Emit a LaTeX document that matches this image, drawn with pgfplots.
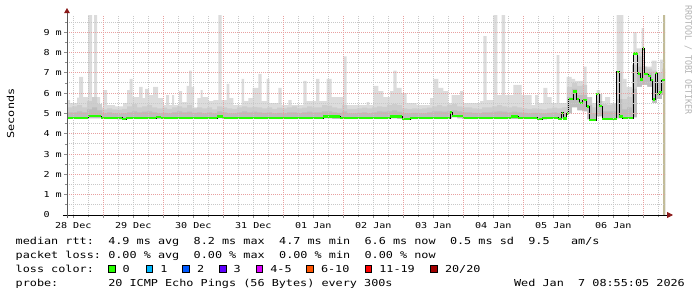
\documentclass[border=0pt]{standalone}
\usepackage{fontspec}
\usepackage{pgfplots}
\usepackage{pgfplotstable}
\pgfplotsset{compat=1.18}
\usetikzlibrary{arrows.meta}
\newfontfamily\monoS[FakeStretch=1.23]{DejaVu Sans Mono}
\newfontfamily\monoC[FakeStretch=0.92]{DejaVu Sans Mono}
\newcommand\legf{\monoS\fontsize{9.6bp}{11bp}\selectfont}
\newcommand\tickf{\monoS\fontsize{8.2bp}{9bp}\selectfont}
\definecolor{smokeL}{HTML}{DCDCDC}
\definecolor{smokeM}{HTML}{CDCDCD}
\definecolor{smokeD}{HTML}{BDBDBD}
\definecolor{mgrid}{HTML}{E8A0A0}
\definecolor{ngrid}{HTML}{C8C8C8}
\definecolor{lossA}{HTML}{26FF00}
\definecolor{lossB}{HTML}{00B8FF}
\definecolor{lossC}{HTML}{0059FF}
\definecolor{lossD}{HTML}{5E00FF}
\definecolor{lossE}{HTML}{DD00FF}
\definecolor{lossF}{HTML}{FF5500}
\definecolor{lossG}{HTML}{FF0000}
\definecolor{lossH}{HTML}{A10000}
\definecolor{arrowred}{HTML}{8B1A1A}
\definecolor{vrulec}{HTML}{C2BC98}

% max ping (top of smoke): hours since start, value in ms
\pgfplotstableread{
h v
0 5.65
1.2 5.5
4.0 5.77
4.8 6.8
6.4 5.8
8.4 9.84
10.0 5.8
10.8 9.84
12.0 5.8
13.2 5.3
14.4 6.15
16.0 5.4
19.2 5.35
22.4 5.5
24.0 6.15
25.0 6.7
26.2 5.8
28.8 6.3
30.28 5.75
31.2 6.2
32.8 5.9
34.4 6.3
36.4 5.75
38.4 5.4
39.6 5.9
40.8 5.4
42.0 5.9
42.8 5.4
44.8 6.1
46.0 5.55
47.88 6.35
48.8 7.1
49.88 6.3
50.8 5.3
52.12 5.75
53.48 6.15
54.28 5.8
56.52 5.6
58.52 5.65
60.52 9.84
61.88 5.65
63.88 6.45
64.92 5.75
66.52 5.4
69.88 6.7
70.8 5.6
72.52 5.75
74.28 6.25
76.52 6.94
77.88 5.6
79.88 6.7
80.92 5.5
84.52 6.25
85.88 5.4
88.52 5.65
89.88 5.4
94.52 6.6
95.88 5.6
99.6 6.7
100.92 5.6
103.88 6.7
105.88 5.8
110.52 7.8
111.88 5.4
119.88 5.55
120.92 5.4
122.52 6.35
124.52 6.1
126.52 5.8
129.2 6.1
130.52 7.1
131.88 6.25
133.88 6.0
135.88 5.5
139.88 5.4
145.2 5.75
146.52 6.7
148.52 6.25
150.52 6.1
152.52 5.5
153.88 5.9
157.2 6.1
158.52 5.5
165.2 5.6
166.52 8.8
167.88 5.65
170.52 9.84
172.12 5.9
173.88 9.84
175.2 5.9
178.52 6.4
181.88 5.9
185.88 5.4
187.2 5.9
188.52 5.5
190.52 6.25
192.12 5.8
193.88 5.5
195.88 7.87
196.92 5.5
199.88 6.8
201.88 6.7
203.2 6.6
206.52 7.3
207.88 5.4
209.88 5.5
211.88 6.15
213.2 5.6
215.2 5.8
217.2 5.5
219.88 9.84
222.52 6.7
223.88 6.3
226.52 9.0
227.88 8.2
229.88 9.2
230.8 7.3
233.88 7.6
235.88 6.8
237.2 7.65
239.2 7.65
}\maxT

% smoke layers per 2 h: bottom, dark top, mid top
\pgfplotstableread{
h bot dark mid
0 4.72 5.05 5.30
2 4.72 5.05 5.35
4 4.72 5.10 5.40
6 4.72 5.05 5.30
8 4.75 5.20 5.60
10 4.75 5.30 5.80
12 4.75 5.15 5.45
14 4.72 5.00 5.20
16 4.72 5.05 5.25
18 4.72 5.00 5.20
20 4.70 4.98 5.18
22 4.70 5.00 5.22
24 4.72 5.05 5.35
26 4.72 5.10 5.45
28 4.72 5.05 5.30
30 4.72 5.08 5.35
32 4.72 5.10 5.40
34 4.72 5.05 5.30
36 4.72 5.00 5.25
38 4.72 5.02 5.28
40 4.72 5.00 5.22
42 4.72 5.05 5.30
44 4.72 5.10 5.35
46 4.72 5.05 5.28
48 4.72 5.08 5.40
50 4.72 5.02 5.25
52 4.72 5.05 5.30
54 4.72 5.00 5.25
56 4.72 5.05 5.30
58 4.72 5.00 5.20
60 4.75 5.10 5.35
62 4.72 5.05 5.30
64 4.72 5.00 5.25
66 4.72 5.00 5.22
68 4.72 5.05 5.30
70 4.72 5.10 5.35
72 4.72 5.05 5.30
74 4.72 5.08 5.32
76 4.72 5.05 5.30
78 4.72 5.02 5.25
80 4.72 5.05 5.30
82 4.72 5.00 5.22
84 4.72 5.03 5.28
86 4.72 5.00 5.25
88 4.72 5.05 5.30
90 4.72 5.05 5.35
92 4.72 5.00 5.25
94 4.72 5.05 5.28
96 4.72 5.08 5.35
98 4.72 5.05 5.30
100 4.72 5.05 5.30
102 4.75 5.10 5.40
104 4.75 5.10 5.38
106 4.72 5.05 5.30
108 4.72 5.02 5.25
110 4.72 5.10 5.40
112 4.72 5.00 5.22
114 4.72 5.00 5.22
116 4.72 5.02 5.25
118 4.72 5.05 5.28
120 4.72 5.00 5.25
122 4.72 5.05 5.30
124 4.72 5.10 5.35
126 4.72 5.08 5.32
128 4.75 5.10 5.40
130 4.75 5.15 5.45
132 4.72 5.08 5.40
134 4.70 5.00 5.25
136 4.70 5.00 5.22
138 4.72 5.02 5.25
140 4.72 5.00 5.22
142 4.72 5.00 5.25
144 4.72 5.05 5.28
146 4.72 5.10 5.35
148 4.72 5.10 5.40
150 4.72 5.08 5.35
152 4.75 5.10 5.40
154 4.80 5.15 5.45
156 4.75 5.10 5.35
158 4.72 5.05 5.30
160 4.72 5.05 5.30
162 4.72 5.02 5.25
164 4.72 5.00 5.22
166 4.72 5.05 5.30
168 4.72 5.05 5.30
170 4.72 5.08 5.35
172 4.72 5.10 5.40
174 4.72 5.08 5.35
176 4.72 5.05 5.30
178 4.72 5.08 5.35
180 4.72 5.05 5.30
182 4.72 5.02 5.25
184 4.72 5.00 5.22
186 4.72 5.02 5.25
188 4.72 5.00 5.22
190 4.70 5.00 5.20
192 4.72 5.02 5.25
194 4.72 5.05 5.28
196 4.72 5.00 5.25
198 4.72 5.02 5.30
200 5.00 5.80 6.30
202 5.30 6.20 6.50
204 5.15 5.90 6.35
206 5.10 5.90 6.40
208 4.70 5.40 5.80
210 4.65 5.00 5.30
212 4.85 5.60 5.95
214 4.70 5.10 5.45
216 4.70 5.10 5.40
218 4.70 5.10 5.45
220 4.75 5.70 7.00
222 4.72 5.20 5.70
224 4.72 5.30 5.80
226 4.80 6.20 7.40
228 6.30 7.30 7.80
230 6.40 7.00 7.30
232 6.30 7.00 7.20
234 5.50 6.60 7.10
236 5.70 6.50 7.00
238 5.90 6.70 7.20
239.2 5.90 6.70 7.20
}\smokeT

% median rtt
\pgfplotstableread{
h v
0 4.77
8.4 4.87
13.6 4.78
22.0 4.72
23.6 4.77
35.6 4.82
37.6 4.77
60.0 4.85
62.4 4.77
102.4 4.85
109.2 4.77
129.2 4.84
134.0 4.72
137.2 4.77
153.2 5.05
154.0 4.86
158.4 4.78
177.6 4.85
180.4 4.78
188.0 4.72
190.0 4.78
196.4 4.72
197.88 5.03
198.4 4.75
199.88 5.0
200.68 5.7
202.4 6.07
203.88 5.7
204.8 5.5
206.28 5.65
207.88 5.33
208.8 4.67
211.6 5.95
212.92 5.36
214.0 4.72
219.88 7.05
220.92 4.84
222.28 4.76
226.52 7.95
228.28 6.97
229.2 6.67
230.28 8.2
230.8 6.93
232.52 6.84
233.48 6.64
234.28 5.69
235.2 7.0
236.12 5.94
236.92 6.02
237.88 6.64
239.2 6.64
}\medT

\begin{document}
\begin{tikzpicture}
\path[use as bounding box] (-67bp,-82bp) rectangle (630bp,215bp);
\begin{axis}[
  at={(0,0)}, anchor=south west,
  scale only axis, width=598bp, height=200bp,
  xmin=0, xmax=239.2, ymin=0, ymax=9.84,
  enlargelimits=false,
  axis on top,
  axis x line=bottom, axis y line=left,
  x axis line style={black, line width=0.8bp, shorten <=-4bp, shorten >=-8bp,
     -{Triangle[length=6bp,width=6bp,color=arrowred]}},
  y axis line style={black!65, line width=0.8bp, shorten <=-3bp, shorten >=-7bp,
     -{Triangle[length=5bp,width=5.5bp,color=arrowred]}},
  xtick={2.5,26.5,50.5,74.5,98.5,122.5,146.5,170.5,194.5,218.5},
  xticklabels={,,,,,,,,,},
  minor xtick={2.5,8.5,20.5,26.5,32.5,44.5,50.5,56.5,68.5,74.5,80.5,92.5,98.5,104.5,116.5,122.5,128.5,140.5,146.5,152.5,164.5,170.5,176.5,188.5,194.5,200.5,212.5,218.5,224.5,236.5},
  extra x ticks={14.5,38.5,62.5,86.5,110.5,134.5,158.5,182.5,206.5,230.5},
  extra x tick labels={},
  extra x tick style={grid=major},
  xminorgrids=true,
  ytick={0,1,2,3,4,5,6,7,8,9},
  yticklabels={0\phantom{ m},1 m,2 m,3 m,4 m,5 m,6 m,7 m,8 m,9 m},
  minor ytick={0.5,1.5,2.5,3.5,4.5,5.5,6.5,7.5,8.5,9.5},
  ymajorgrids=true, yminorgrids=true,
  major grid style={draw=mgrid, line width=0.8bp, dash pattern=on 1bp off 1bp},
  minor grid style={draw=ngrid, line width=0.8bp, dash pattern=on 1bp off 1bp},
  tick align=outside, major tick length=3bp, minor tick length=2bp,
  every tick/.style={black!45, line width=0.7bp},
  ticklabel style={font=\tickf, inner sep=0pt},
  yticklabel style={xshift=-2bp},
]
\addplot[const plot, draw=none, fill=smokeL] table[x=h, y=v] {\maxT} \closedcycle;
\addplot[const plot, draw=none, fill=smokeM] table[x=h, y=mid] {\smokeT} \closedcycle;
\addplot[const plot, draw=none, fill=smokeD] table[x=h, y=dark] {\smokeT} \closedcycle;
\addplot[const plot, draw=none, fill=white] table[x=h, y=bot] {\smokeT} \closedcycle;
\addplot[vrulec, line width=2.3bp] coordinates {(239.0,0) (239.0,9.84)};
\addplot[const plot, black, line width=0.9bp] table[x=h, y=v] {\medT};
\addplot[jump mark left, lossA, line width=2.4bp] table[x=h, y=v] {\medT};
\end{axis}

% x axis date labels (centred at noon of each day)
\begin{scope}[every node/.style={anchor=base, inner sep=0pt, font=\tickf}]
\node at (6.25bp,-13.3bp) {28 Dec};
\node at (66.25bp,-13.3bp) {29 Dec};
\node at (126.25bp,-13.3bp) {30 Dec};
\node at (186.25bp,-13.3bp) {31 Dec};
\node at (246.25bp,-13.3bp) {01 Jan};
\node at (306.25bp,-13.3bp) {02 Jan};
\node at (366.25bp,-13.3bp) {03 Jan};
\node at (426.25bp,-13.3bp) {04 Jan};
\node at (486.25bp,-13.3bp) {05 Jan};
\node at (546.25bp,-13.3bp) {06 Jan};
\end{scope}

% y axis title and credits
\node[rotate=90, font=\legf, inner sep=0pt] at (-56.5bp,101.5bp) {Seconds};
\node[rotate=-90, anchor=west, inner sep=0pt, text=black!30,
      font=\monoC\fontsize{9bp}{10bp}\selectfont] at (621.3bp,210bp) {RRDTOOL / TOBI OETIKER};

% legend rows
\begin{scope}[every node/.style={anchor=base west, inner sep=0pt, font=\legf}]
\node at (-51.5bp,-29bp) {median rtt:};
\node at (41.06bp,-29bp) {4.9 ms avg};
\node at (126.5bp,-29bp) {8.2 ms max};
\node at (211.94bp,-29bp) {4.7 ms min};
\node at (297.38bp,-29bp) {6.6 ms now};
\node at (382.82bp,-29bp) {0.5 ms sd};
\node at (461.14bp,-29bp) {9.5};
\node at (503.86bp,-29bp) {am/s};

\node at (-51.5bp,-43bp) {packet loss:};
\node at (41.06bp,-43bp) {0.00 \% avg};
\node at (126.5bp,-43bp) {0.00 \% max};
\node at (211.94bp,-43bp) {0.00 \% min};
\node at (297.38bp,-43bp) {0.00 \% now};

\node at (-51.5bp,-57bp) {loss color:};
\node at (55.4bp,-57bp) {0};
\node at (93.1bp,-57bp) {1};
\node at (129.8bp,-57bp) {2};
\node at (166.4bp,-57bp) {3};
\node at (203.1bp,-57bp) {4-5};
\node at (253.8bp,-57bp) {6-10};
\node at (312.1bp,-57bp) {11-19};
\node at (377.8bp,-57bp) {20/20};

\node at (-51.5bp,-71bp) {probe:};
\node at (41.06bp,-71bp) {20 ICMP Echo Pings (56 Bytes) every 300s};
\node at (446.9bp,-71bp) {Wed Jan};
\node at (511.0bp,-71bp) {7 08:55:05 2026};
\end{scope}

\begin{scope}[line width=0.7bp]
\filldraw[fill=lossA, draw=black] (41.3bp,-57bp) rectangle ++(6.7bp,6.7bp);
\filldraw[fill=lossB, draw=black] (79bp,-57bp) rectangle ++(6.7bp,6.7bp);
\filldraw[fill=lossC, draw=black] (115.7bp,-57bp) rectangle ++(6.7bp,6.7bp);
\filldraw[fill=lossD, draw=black] (152.3bp,-57bp) rectangle ++(6.7bp,6.7bp);
\filldraw[fill=lossE, draw=black] (189bp,-57bp) rectangle ++(6.7bp,6.7bp);
\filldraw[fill=lossF, draw=black] (239.7bp,-57bp) rectangle ++(6.7bp,6.7bp);
\filldraw[fill=lossG, draw=black] (298bp,-57bp) rectangle ++(6.7bp,6.7bp);
\filldraw[fill=lossH, draw=black] (363.7bp,-57bp) rectangle ++(6.7bp,6.7bp);
\end{scope}
\end{tikzpicture}
\end{document}
